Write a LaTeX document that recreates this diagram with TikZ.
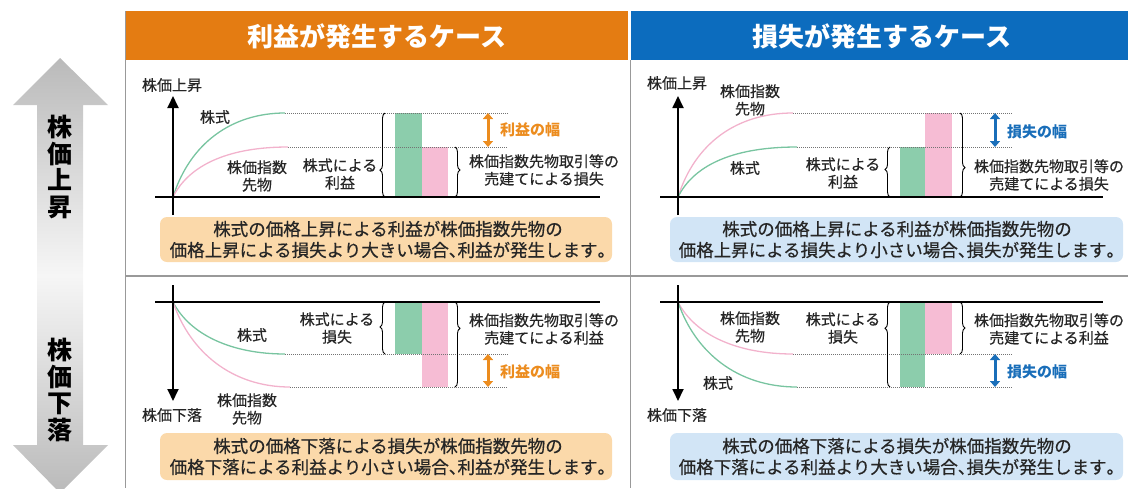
\documentclass[tikz,border=0pt]{standalone}
\usepackage{fontspec}
\newfontfamily\jp{Noto Sans CJK JP}
\newfontfamily\jpm{Noto Sans CJK JP}[FakeBold=0.5]
\usetikzlibrary{arrows.meta,decorations.pathreplacing}
\definecolor{hdrO}{RGB}{228,124,18}
\definecolor{hdrB}{RGB}{12,108,190}
\definecolor{capO}{RGB}{251,217,170}
\definecolor{capB}{RGB}{210,229,246}
\definecolor{grn}{RGB}{120,196,160}
\definecolor{pnk}{RGB}{242,178,204}
\definecolor{barG}{RGB}{140,205,172}
\definecolor{barP}{RGB}{246,188,212}
\definecolor{txtO}{RGB}{236,140,30}
\definecolor{txtB}{RGB}{25,110,185}
\definecolor{arrG}{RGB}{186,186,186}
\definecolor{arrL}{RGB}{246,246,246}
\newcommand{\hc}[1]{\makebox[0.5em][l]{#1}}
\tikzset{
  every node/.style={font=\jp, inner sep=0pt},
  hdr/.style={font=\jp\bfseries\fontsize{26}{28}\selectfont, text=white},
  vtxt/.style={font=\jp\bfseries\fontsize{25}{26.7}\selectfont, align=center},
  lbl/.style={font=\jpm\fontsize{15}{17.5}\selectfont, align=center, text=black!85},
  wid/.style={font=\jp\bfseries\fontsize{15}{17}\selectfont, anchor=west},
  captxt/.style={font=\jpm\fontsize{17.5}{21}\selectfont, align=center, text=black!85},
  capbox/.style={rounded corners=7pt},
  axisline/.style={line width=1.8pt, black},
  axtip/.style={-{Triangle[width=11pt,length=12pt]}},
  cg/.style={line width=1.3pt, grn},
  cp/.style={line width=1.3pt, pnk},
  dotl/.style={densely dotted, line width=1pt, black!55},
  brc/.style={decorate, line width=0.9pt, decoration={brace, amplitude=5pt, aspect=#1}},
  brc/.default=0.5,
  dbl/.style={line width=3pt, {Triangle[width=10pt,length=6pt]}-{Triangle[width=10pt,length=6pt]}},
  tblrule/.style={line width=1pt, black!40},
}
\begin{document}
\begin{tikzpicture}[x=1pt,y=-1pt]
\path[use as bounding box, clip] (0,0) rectangle (1128,488);
% ---- big left arrow
\shade[top color=arrG, bottom color=arrG, middle color=arrL]
  (60,58) -- (108,105) -- (83,105) -- (83,445) -- (108,445) -- (60,493)
  -- (13,445) -- (37,445) -- (37,105) -- (13,105) -- cycle;
\node[vtxt] (up) at (60,167) {株\\価\\上\\昇};
\node[vtxt] (dn) at (60,390) {株\\価\\下\\落};
% ---- table frame
\fill[hdrO] (125,11) rectangle (628,60);
\fill[hdrB] (631,11) rectangle (1128,60);
\node[hdr] (h1) at (377,36) {利益が発生するケース};
\node[hdr] (h2) at (882,36) {損失が発生するケース};
\draw[tblrule] (125,11) -- (125,488);
\draw[tblrule] (630,60) -- (630,488);
\draw[tblrule, line width=1.6pt] (125,276) -- (1128,276);
% ---- captions
\fill[capO, capbox] (160,217) rectangle (612,262);
\fill[capB, capbox] (670,217) rectangle (1123,262);
\fill[capO, capbox] (160,433) rectangle (612,480);
\fill[capB, capbox] (670,433) rectangle (1123,480);
\node[captxt] (c1) at (388,239.5) {株式の価格上昇による利益が株価指数先物の\\価格上昇による損失より大きい場合\hc{、}利益が発生します\hc{。}};
\node[captxt] (c2) at (897,239.5) {株式の価格上昇による利益が株価指数先物の\\価格上昇による損失より小さい場合\hc{、}損失が発生します\hc{。}};
\node[captxt] (c3) at (388,456.5) {株式の価格下落による損失が株価指数先物の\\価格下落による利益より小さい場合\hc{、}利益が発生します\hc{。}};
\node[captxt] (c4) at (897,456.5) {株式の価格下落による損失が株価指数先物の\\価格下落による利益より大きい場合\hc{、}損失が発生します\hc{。}};

% ================= top-left
\fill[barG] (395,113) rectangle (422,197);
\fill[barP] (422,147) rectangle (448,197);
\draw[dotl] (285,113) -- (508,113);
\draw[dotl] (288,147) -- (508,147);
\draw[cg] (173,197) .. controls (190,143) and (232,113) .. (285,113);
\draw[cp] (173,197) .. controls (190,163) and (232,147) .. (288,147);
\draw[axisline] (155,197) -- (600,197);
\draw[axisline, axtip] (173,215) -- (173,96);
\draw[brc=0.32] (385,197) -- (385,113);
\draw[brc=0.46] (455,147) -- (455,197);
\draw[dbl, txtO] (488,113) -- (488,147);
\node[lbl] (a1) at (172,85) {株価上昇};
\node[lbl] (a2) at (215,117) {株式};
\node[lbl] (a3) at (257,176) {株価指数\\先物};
\node[lbl] (a4) at (340,174) {株式による\\利益};
\node[wid, text=txtO] (a5) at (500,130) {利益の幅};
\node[lbl] (a6) at (544,170) {株価指数先物取引等の\\売建てによる損失};

% ================= top-right
\fill[barG] (900,147) rectangle (925,197);
\fill[barP] (925,113) rectangle (952,197);
\draw[dotl] (793,113) -- (1013,113);
\draw[dotl] (797,147) -- (1013,147);
\draw[cp] (678,197) .. controls (695,143) and (737,113) .. (793,113);
\draw[cg] (678,197) .. controls (695,163) and (737,147) .. (797,147);
\draw[axisline] (660,197) -- (1103,197);
\draw[axisline, axtip] (678,215) -- (678,96);
\draw[brc=0.55] (890,197) -- (890,147);
\draw[brc=0.65] (960,113) -- (960,197);
\draw[dbl, txtB] (995,113) -- (995,147);
\node[lbl] (b1) at (677,83) {株価上昇};
\node[lbl] (b2) at (750,100) {株価指数\\先物};
\node[lbl] (b3) at (745,168) {株式};
\node[lbl] (b4) at (843,173) {株式による\\利益};
\node[wid, text=txtB] (b5) at (1007,132) {損失の幅};
\node[lbl] (b6) at (1049,175) {株価指数先物取引等の\\売建てによる損失};

% ================= bottom-left
\fill[barG] (395,302) rectangle (422,354);
\fill[barP] (422,302) rectangle (448,387);
\draw[dotl] (285,354) -- (508,354);
\draw[dotl] (290,387) -- (508,387);
\draw[cg] (173,302) .. controls (190,335) and (232,354) .. (285,354);
\draw[cp] (173,302) .. controls (190,352) and (232,387) .. (290,387);
\draw[axisline] (155,302) -- (600,302);
\draw[axisline, axtip] (173,285) -- (173,401);
\draw[brc=0.52] (385,354) -- (385,302);
\draw[brc=0.31] (455,302) -- (455,387);
\draw[dbl, txtO] (488,354) -- (488,387);
\node[lbl] (d1) at (172,415) {株価下落};
\node[lbl] (d2) at (252,335) {株式};
\node[lbl] (d3) at (247,409) {株価指数\\先物};
\node[lbl] (d4) at (337,328) {株式による\\損失};
\node[wid, text=txtO] (d5) at (500,372) {利益の幅};
\node[lbl] (d6) at (544,329) {株価指数先物取引等の\\売建てによる利益};

% ================= bottom-right
\fill[barG] (900,302) rectangle (925,387);
\fill[barP] (925,302) rectangle (952,354);
\draw[dotl] (793,354) -- (1013,354);
\draw[dotl] (797,387) -- (1013,387);
\draw[cp] (678,302) .. controls (695,335) and (737,354) .. (793,354);
\draw[cg] (678,302) .. controls (695,352) and (737,387) .. (797,387);
\draw[axisline] (660,302) -- (1103,302);
\draw[axisline, axtip] (678,285) -- (678,401);
\draw[brc=0.69] (890,387) -- (890,302);
\draw[brc=0.5] (960,302) -- (960,354);
\draw[dbl, txtB] (995,354) -- (995,387);
\node[lbl] (e1) at (677,415) {株価下落};
\node[lbl] (e2) at (750,327) {株価指数\\先物};
\node[lbl] (e3) at (843,328) {株式による\\損失};
\node[lbl] (e4) at (718,383) {株式};
\node[wid, text=txtB] (e5) at (1007,372) {損失の幅};
\node[lbl] (e6) at (1049,329) {株価指数先物取引等の\\売建てによる利益};
\end{tikzpicture}
\end{document}
